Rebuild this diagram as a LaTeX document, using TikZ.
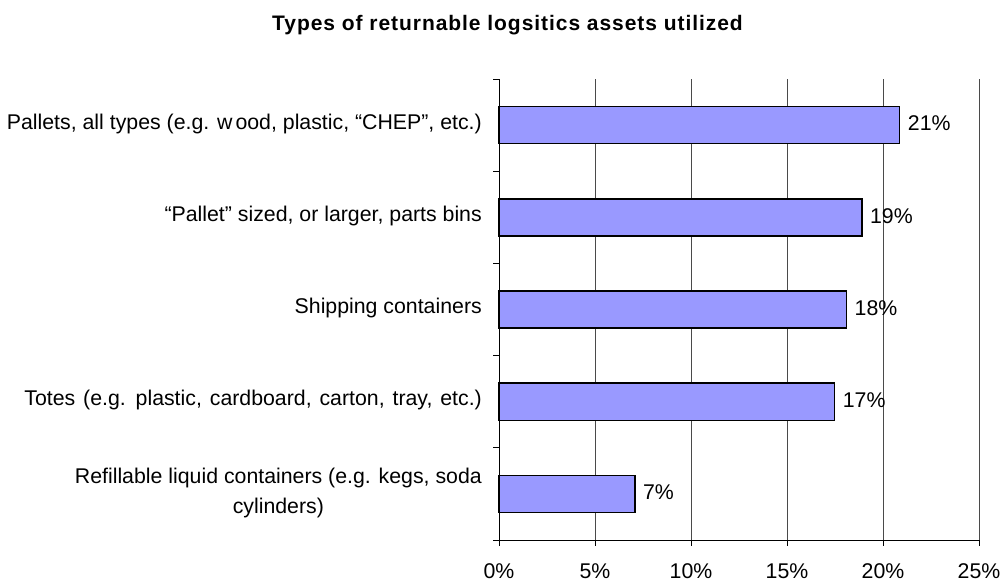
\documentclass[tikz,border=0pt]{standalone}
\usepackage{fontspec}
\setmainfont{Liberation Sans}
\newfontfamily\titlefam[LetterSpace=4.5]{Liberation Sans}
\newcommand\chartfont{\fontsize{21.3}{30}\selectfont}
\newcommand\charttitlefont{\titlefam\bfseries\fontsize{21}{25}\selectfont}
\newcommand\widewords{\spaceskip=7.9pt\relax}
\definecolor{barblue}{HTML}{9999FF}
\definecolor{gridgray}{HTML}{4A4A4A}
\begin{document}
\begin{tikzpicture}[x=1pt,y=-1pt,
  bar/.style={draw=black, line width=1.4pt, fill=barblue},
  gridline/.style={draw=gridgray, line width=0.9pt},
  axisline/.style={draw=black, line width=1pt},
  catlabel/.style={anchor=east, align=center, font=\chartfont, inner sep=0pt},
  vallabel/.style={anchor=west, font=\chartfont, inner sep=0pt},
  ticklabel/.style={anchor=base, font=\chartfont, inner sep=0pt}]
  \useasboundingbox (0,0) rectangle (1000,581);
  % plot frame: x origin 499, 19.2 units per percent, y from 79 to 540
  \def\xo{499}
  \def\ppc{19.2}
  % vertical gridlines
  \foreach \p in {5,10,15,20,25}
    \draw[gridline] ({\xo+\ppc*\p},79) -- ({\xo+\ppc*\p},540);
  % bars
  \foreach \v/\c [count=\i] in {20.87/125.1, 18.9/217.4, 18.1/309.5, 17.48/401.7, 7.08/493.9} {
    \draw[bar] (\xo,{\c-18.6}) rectangle ({\xo+\ppc*\v},{\c+18.6});
  }
  % axes
  \draw[axisline] (\xo,79) -- (\xo,540) -- (979,540);
  \foreach \k in {0,...,5}
    \draw[axisline] (\xo-6,{79+92.2*\k}) -- (\xo,{79+92.2*\k});
  \foreach \p in {0,5,10,15,20,25}
    \draw[axisline] ({\xo+\ppc*\p},540) -- ({\xo+\ppc*\p},546);
  % x tick labels
  \foreach \p in {0,5,10,15,20,25}
    \node[ticklabel] (tick\p) at ({\xo+\ppc*\p},578) {\p\%};
  % value labels
  \node[vallabel] (v1) at ({\xo+\ppc*20.87+8},123.5) {21\%};
  \node[vallabel] (v2) at ({\xo+\ppc*18.9+8},215.8) {19\%};
  \node[vallabel] (v3) at ({\xo+\ppc*18.1+8},307.9) {18\%};
  \node[vallabel] (v4) at ({\xo+\ppc*17.48+8},400.1) {17\%};
  \node[vallabel] (v5) at ({\xo+\ppc*7.08+8},492.3) {7\%};
  % category labels
  \node[catlabel] (c1) at (482,123.5) {Pallets, all types (e.g. w\hspace{3pt}ood, plastic, “CHEP”, etc.)};
  \node[catlabel] (c2) at (482,215.8) {“Pallet” sized, or larger, parts bins};
  \node[catlabel] (c3) at (482,307.9) {Shipping containers};
  \node[catlabel] (c4) at (482,400.1) {\widewords Totes (e.g. plastic, cardboard, carton, tray, etc.)};
  \node[catlabel] (c5) at (482,493) {Refillable liquid containers (e.g. kegs, soda\\cylinders)};
  % title
  \node[anchor=base, font=\charttitlefont, inner sep=0pt] (title) at (507.5,30) {Types of returnable logsitics assets utilized};
\end{tikzpicture}
\end{document}
